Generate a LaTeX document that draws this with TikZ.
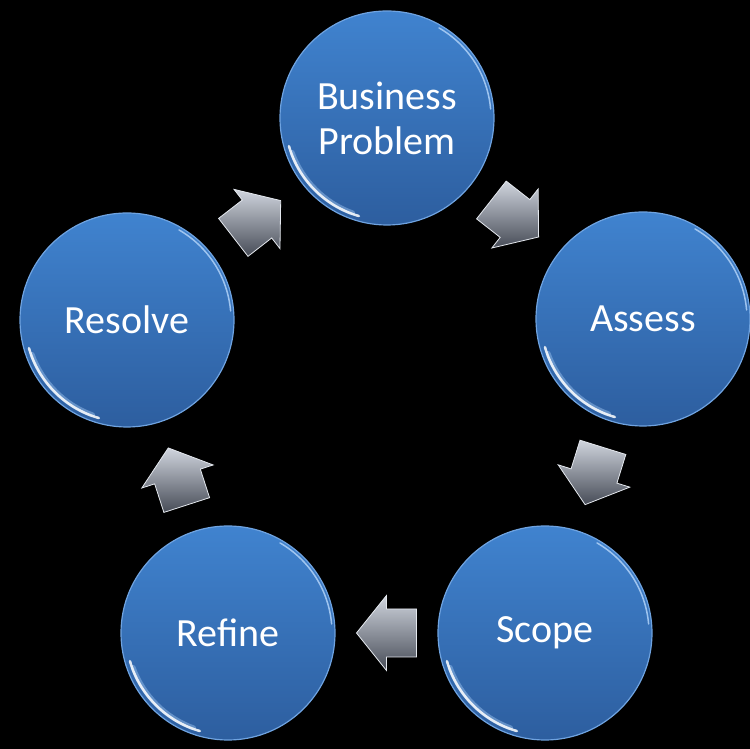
\documentclass[tikz,border=0pt]{standalone}
\usepackage{fontspec}
\setmainfont{Carlito}
\usetikzlibrary{calc}
\definecolor{bluetop}{HTML}{4083CF}
\definecolor{bluebot}{HTML}{2D5E9F}
\definecolor{rimblue}{HTML}{6FA3E0}
\definecolor{arrlight}{HTML}{D0D5DE}
\definecolor{arrdark}{HTML}{474C57}
\definecolor{arredge}{HTML}{E4E8EE}
\begin{document}
\begin{tikzpicture}[x=1pt,y=1pt,
  ball/.style={circle, minimum size=214pt, inner sep=0pt, top color=bluetop, bottom color=bluebot,
    draw=rimblue, line width=1.2pt, text=white, align=center, font=\fontsize{40}{45}\selectfont},
  gloss/.style={white, line width=2.5pt, line cap=round, opacity=0.85},
  glosswide/.style={color={rgb,255:red,150;green,190;blue,235}, line width=5pt, line cap=round, opacity=0.5},
  shine/.style={color={rgb,255:red,170;green,205;blue,245}, line width=1.5pt, line cap=round, opacity=0.9},
  arrowbody/.style={draw=arredge, line width=0.8pt, line join=miter}]
\fill[black] (0,0) rectangle (750,749);
\useasboundingbox (0,0) rectangle (750,749);
\node[ball] (bp) at (387,631) {Business\\Problem};
\node[ball] (as) at (643,430) {Assess};
\node[ball] (sc) at (545,116) {Scope};
\node[ball] (rf) at (228,116) {Refine};
\node[ball] (rs) at (127,429) {Resolve};
\foreach \nm in {bp,as,sc,rf,rs} {
  \draw[glosswide] ($(\nm.center)+(200:101)$) arc[start angle=200, end angle=250, radius=101];
  \draw[gloss] ($(\nm.center)+(196:102)$) arc[start angle=196, end angle=254, radius=102];
  \draw[shine] ($(\nm.center)+(5:104)$) arc[start angle=5, end angle=60, radius=104];
}
\foreach \src/\dst/\ang in {bp/as/-38.1, as/sc/-107.3, sc/rf/180, rf/rs/107.9, rs/bp/37.8} {
  \begin{scope}[shift={($(\src)!0.5!(\dst)$)}, rotate=\ang]
    \shade[arrowbody, top color=arrlight, bottom color=arrdark]
      (30,0) -- (0,37.5) -- (0,24) -- (-30,24) -- (-30,-24) -- (0,-24) -- (0,-37.5) -- cycle;
  \end{scope}
  \coordinate (arr-\src) at ($(\src)!0.5!(\dst)$);
}
\end{tikzpicture}
\end{document}
